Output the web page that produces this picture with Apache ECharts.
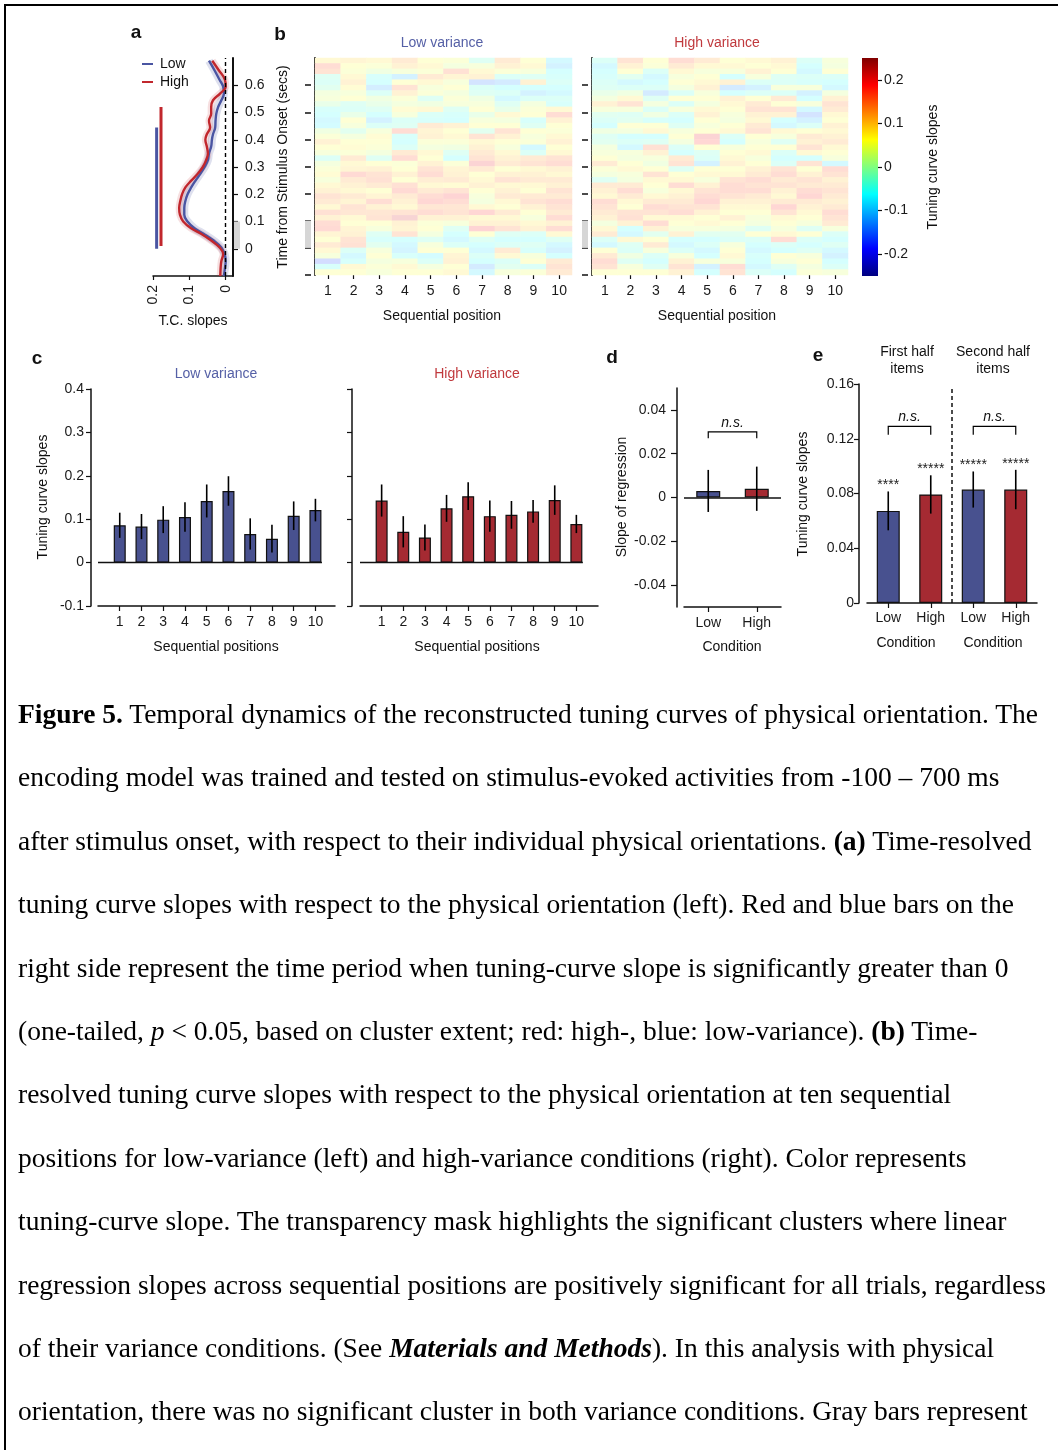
<!DOCTYPE html>
<html><head><meta charset="utf-8">
<script src="https://cdn.jsdelivr.net/npm/echarts@6/dist/echarts.min.js"></script>
<style>
html,body{margin:0;padding:0;background:#fff;}
#wrap{position:relative;width:1058px;height:1450px;overflow:hidden;background:#fff;}
#chart{position:absolute;left:0;top:0;width:1058px;height:1450px;}
#frame{position:absolute;left:4px;top:4px;width:1100px;height:1500px;border-left:2px solid #000;border-top:2px solid #000;pointer-events:none;}
#caption{position:absolute;left:18px;top:682px;font-family:'Liberation Serif','Times New Roman',serif;font-size:27.5px;line-height:63.4px;color:#000;white-space:nowrap;}
</style></head><body>
<div id="wrap"><div id="chart"></div><div id="frame"></div>
<div id="caption">
<div><b>Figure 5.</b> Temporal dynamics of the reconstructed tuning curves of physical orientation. The</div>
<div>encoding model was trained and tested on stimulus-evoked activities from -100 – 700 ms</div>
<div>after stimulus onset, with respect to their individual physical orientations. <b>(a)</b> Time-resolved</div>
<div>tuning curve slopes with respect to the physical orientation (left). Red and blue bars on the</div>
<div>right side represent the time period when tuning-curve slope is significantly greater than 0</div>
<div>(one-tailed, <i>p</i> &lt; 0.05, based on cluster extent; red: high-, blue: low-variance). <b>(b)</b> Time-</div>
<div>resolved tuning curve slopes with respect to the physical orientation at ten sequential</div>
<div>positions for low-variance (left) and high-variance conditions (right). Color represents</div>
<div>tuning-curve slope. The transparency mask highlights the significant clusters where linear</div>
<div>regression slopes across sequential positions are positively significant for all trials, regardless</div>
<div>of their variance conditions. (See <b><i>Materials and Methods</i></b>). In this analysis with physical</div>
<div>orientation, there was no significant cluster in both variance conditions. Gray bars represent</div>
</div></div>
<script>
// ---------------- DATA ----------------
// Panel a: time (s) and tuning-curve slopes
const timeA = [0.69,0.655,0.62,0.595,0.57,0.545,0.52,0.495,0.47,0.445,0.42,0.40,0.375,0.35,0.325,0.30,0.275,0.25,0.225,0.20,0.175,0.15,0.125,0.10,0.075,0.055,0.03,0.005,-0.02,-0.045,-0.07,-0.10];
const lowSlopeA = [0.046,0.031,0.017,0.007,0.005,0.012,0.021,0.026,0.028,0.029,0.035,0.038,0.040,0.046,0.049,0.058,0.070,0.083,0.095,0.105,0.111,0.114,0.114,0.105,0.086,0.061,0.033,0.012,0.003,0.000,0.002,0.005];
const highSlopeA = [0.037,0.019,0.002,0.000,0.015,0.035,0.040,0.040,0.046,0.043,0.052,0.056,0.052,0.049,0.054,0.063,0.077,0.095,0.111,0.120,0.125,0.128,0.126,0.117,0.095,0.068,0.040,0.017,0.007,0.012,0.014,0.015];
const sigLowWindow = [0.0, 0.445];
const sigHighWindow = [0.01, 0.52];
const baselineWindow = [0.0, 0.1];
const timeTicks = [0,0.1,0.2,0.3,0.4,0.5,0.6];
const heatTimeTicks = [-0.1,0,0.1,0.2,0.3,0.4,0.5,0.6];
const slopeTicksA = [0,0.1,0.2];

// Panel b: heatmap time bins (bin start, bottom -> top) and slopes (x0.01), each column listed top -> bottom
const timeBins = [-0.10,-0.08,-0.06,-0.04,-0.02,0.00,0.02,0.04,0.06,0.08,0.10,0.12,0.14,0.16,0.18,0.20,0.22,0.24,0.26,0.28,0.30,0.32,0.34,0.36,0.38,0.40,0.42,0.44,0.46,0.48,0.50,0.52,0.54,0.56,0.58,0.60,0.62,0.64,0.66,0.68];
const seqPositions = ['1','2','3','4','5','6','7','8','9','10'];
const lowVarHeat = [
 [8,16,14,-3,-4,-2,3,4,0,-5,-6,-8,-7,2,5,10,6,4,-4,3,5,7,4,8,10,14,12,8,15,10,16,17,9,6,12,8,4,-16,-5,6],
 [9,6,5,8,10,7,4,6,-3,-4,0,6,4,-2,3,6,7,5,12,8,9,17,12,10,8,12,9,14,13,8,6,9,10,14,15,-4,-8,-5,8,6],
 [8,5,2,-5,-6,-11,-4,2,0,-3,-6,-10,-4,4,7,6,5,3,-3,6,10,14,15,12,6,9,16,10,13,14,6,4,-3,-5,-2,4,6,3,5,4],
 [12,10,4,-10,6,14,10,5,3,7,4,-4,-3,16,-5,-6,-4,12,16,5,6,10,6,15,17,12,10,8,14,21,10,9,14,-6,-8,-9,-5,4,8,6],
 [6,8,5,12,8,4,5,-3,2,8,-4,-5,12,9,10,5,3,8,6,10,14,16,11,8,12,16,18,13,16,10,5,6,3,-3,4,6,-7,-4,3,6],
 [5,3,15,9,4,6,3,5,4,-3,-5,-6,10,6,8,5,2,-3,-6,5,9,10,12,7,14,19,16,13,14,10,4,-3,-6,-8,-4,6,9,10,6,8],
 [-3,4,8,10,-14,-4,-3,2,4,6,0,4,6,-2,14,8,10,12,14,20,12,6,8,10,6,4,3,8,18,8,10,19,6,-3,-6,-8,-4,-6,-12,-8],
 [12,10,5,-4,-12,-6,-4,-8,-3,0,8,3,6,14,10,6,4,8,10,12,6,10,14,8,10,12,8,6,12,8,10,14,-3,-6,-4,12,8,-4,-2,4],
 [6,8,4,-3,10,-6,-10,-4,3,5,6,-5,-3,6,4,5,-8,-4,12,14,8,10,12,8,6,12,14,10,6,4,8,10,-4,-6,-3,-5,4,6,-4,5],
 [-8,-10,-6,-5,-4,-6,-8,-4,-5,8,16,10,6,5,8,10,6,8,14,16,10,8,12,10,14,12,16,14,12,16,10,16,8,-3,-8,-10,-6,12,14,12]
];
const highVarHeat = [
 [-4,-8,-6,-5,-4,-3,0,3,10,4,-2,-4,-6,2,-3,-2,3,4,6,12,5,3,-3,12,10,8,16,14,12,10,3,8,12,-4,-8,6,12,16,14,6],
 [14,10,6,-2,-8,-4,2,8,14,4,-3,-2,6,3,-6,-4,-8,4,3,6,8,4,3,12,16,12,8,6,14,15,10,-6,-8,8,-3,-4,2,-3,4,6],
 [6,5,-4,-8,-6,-4,-12,-3,3,-4,2,-5,6,8,-6,-3,15,10,4,2,6,14,8,6,4,8,12,16,14,8,16,10,-2,6,12,4,-4,-6,-3,6],
 [16,12,8,4,6,3,-4,6,-4,4,-4,-6,-3,4,6,3,-4,-6,12,14,-3,6,8,16,8,10,12,14,16,8,6,4,10,-6,-8,-4,4,10,14,10],
 [12,8,4,6,8,10,4,6,3,8,10,6,4,6,20,18,6,-3,-4,-10,6,8,4,10,14,16,18,14,10,6,8,4,-2,-6,-4,-8,-6,4,-10,-6],
 [6,8,4,-6,10,-12,-6,10,8,6,4,3,6,8,-4,-6,4,6,8,10,6,8,14,16,16,14,10,8,6,10,6,3,-2,-4,4,6,8,4,16,14],
 [8,6,10,4,-4,-10,-4,6,12,14,10,8,12,14,6,4,6,8,4,6,10,12,16,14,16,12,10,8,6,4,3,-3,6,-4,-6,-8,-5,-6,-8,-4],
 [10,8,6,-3,-4,4,-4,12,6,14,10,-6,-8,8,4,-3,6,-4,-6,-4,14,16,12,14,10,8,12,18,14,8,6,4,8,16,-4,-6,6,4,-3,-6],
 [-4,-6,-8,-4,-5,4,-10,-6,4,-8,-14,-10,-4,6,12,10,14,8,-6,14,6,10,14,12,16,18,12,10,8,6,4,-3,6,-4,-6,-3,4,6,3,5],
 [4,3,6,-4,-6,-8,3,10,14,12,8,6,10,8,10,12,8,6,4,-8,16,14,10,12,14,12,10,12,16,14,12,4,-4,-6,-3,-8,-10,-6,-4,4]
];
const colorbarTicks = [-0.2,-0.1,0,0.1,0.2];

// Panel c
const cPositions = [1,2,3,4,5,6,7,8,9,10];
const cLowMean = [0.086,0.083,0.099,0.105,0.142,0.165,0.066,0.055,0.108,0.121];
const cLowSE   = [0.029,0.029,0.031,0.034,0.038,0.034,0.036,0.032,0.033,0.026];
const cHighMean = [0.143,0.071,0.058,0.125,0.153,0.107,0.110,0.118,0.144,0.089];
const cHighSE   = [0.037,0.036,0.030,0.031,0.032,0.036,0.032,0.026,0.034,0.021];

// Panel d
const dConds = ['Low','High'];
const dMean = [0.003,0.004];
const dSE = [0.0096,0.0101];
const dTicks = [-0.04,-0.02,0,0.02,0.04];
const dBracket = [0.03, 0.027];

// Panel e
const eConds = ['Low','High','Low','High'];
const eMean = [0.0673,0.0793,0.0829,0.0829];
const eSE = [0.0142,0.0140,0.0132,0.0144];
const eStars = ['****','*****','*****','*****'];
const eBracket = [0.129, 0.123];

// ---------------- STYLE ----------------
const FONT = "'Liberation Sans', Arial, Helvetica, sans-serif";
const AX = '#111';
const LBL = '#1a1a1a';
const LINE_BLUE = '#4a55a2', LINE_RED = '#c1272d';
const BAR_BLUE = '#48518f', BAR_RED = '#a52a32';
const TITLE_BLUE = '#5560a6', TITLE_RED = '#c0393d';
const JET = ['#00007F','#0000FF','#007FFF','#00FFFF','#7FFF7F','#FFFF00','#FF7F00','#FF0000','#7F0000'];
const MASK_ALPHA = 0.17;
function pale(hex){ const n=parseInt(hex.slice(1),16); const r=(n>>16)&255, g=(n>>8)&255, b=n&255; const f=c=>Math.round(255*(1-MASK_ALPHA)+c*MASK_ALPHA); return 'rgb('+f(r)+','+f(g)+','+f(b)+')'; }
const JET_PALE = JET.map(pale);
const fmt1 = v => Math.abs(v) < 1e-9 ? '0' : v.toFixed(1);
const fmt2 = v => Math.abs(v) < 1e-9 ? '0' : v.toFixed(2);

function merge(a, b){ const o = Object.assign({}, a); for (const k in b){ if (b[k] && typeof b[k]==='object' && !Array.isArray(b[k]) && a[k] && typeof a[k]==='object') o[k]=merge(a[k], b[k]); else o[k]=b[k]; } return o; }
const baseVal = {type:'value', splitLine:{show:false}, axisLine:{show:true,onZero:false,lineStyle:{color:AX,width:1.5}}, axisTick:{show:true,length:5,lineStyle:{color:AX,width:1.2}}, axisLabel:{fontFamily:FONT,fontSize:14,color:LBL}};
const baseCat = {type:'category', splitLine:{show:false}, axisLine:{show:true,onZero:false,lineStyle:{color:AX,width:1.5}}, axisTick:{show:true,alignWithLabel:true,length:5,lineStyle:{color:AX,width:1.2}}, axisLabel:{fontFamily:FONT,fontSize:14,color:LBL,interval:0}};
const V = o => merge(baseVal, o);
const C = o => merge(baseCat, o);

const grid = [
  {left:153, top:58, width:80, height:218},   // 0 a
  {left:315, top:58, width:257, height:217},  // 1 b low
  {left:592, top:58, width:256, height:217},  // 2 b high
  {left:862, top:58, width:16, height:218},   // 3 colorbar axis
  {left:98, top:389, width:237, height:217},  // 4 c low
  {left:360, top:389, width:238, height:217}, // 5 c high
  {left:684, top:388, width:97, height:219},  // 6 d
  {left:867, top:384, width:170, height:219}  // 7 e
];
const xAxis = [
  V({gridIndex:0, inverse:true, min:-0.02, max:0.2, axisTick:{customValues:slopeTicksA,length:4}, axisLabel:{customValues:slopeTicksA, rotate:90, margin:9, formatter:fmt1}}),
  C({gridIndex:1, data:seqPositions, axisLine:{show:false}, axisTick:{length:4}, axisLabel:{margin:9}}),
  C({gridIndex:2, data:seqPositions, axisLine:{show:false}, axisTick:{length:4}, axisLabel:{margin:9}}),
  {gridIndex:3, type:'value', show:false, min:0, max:1},
  V({gridIndex:4, min:0, max:10.9, axisTick:{customValues:cPositions}, axisLabel:{customValues:cPositions, margin:9}}),
  V({gridIndex:5, min:0, max:11, axisTick:{customValues:cPositions}, axisLabel:{customValues:cPositions, margin:9}}),
  C({gridIndex:6, data:dConds, axisLabel:{margin:9}}),
  C({gridIndex:7, data:eConds, axisLabel:{margin:8}})
];
const yAxis = [
  V({gridIndex:0, position:'right', min:-0.1, max:0.7, axisLine:{lineStyle:{width:2}}, axisTick:{customValues:timeTicks}, axisLabel:{customValues:timeTicks, formatter:fmt1, margin:12}}),
  C({gridIndex:1, position:'left', data:timeBins, axisLine:{lineStyle:{width:2}}, axisTick:{show:false}, axisLabel:{show:false}}),
  V({gridIndex:1, position:'left', min:-0.1, max:0.7, offset:4, axisLine:{show:false}, axisTick:{customValues:heatTimeTicks, length:6, lineStyle:{width:1.5}}, axisLabel:{show:false}}),
  C({gridIndex:2, position:'left', data:timeBins, axisLine:{lineStyle:{width:2}}, axisTick:{show:false}, axisLabel:{show:false}}),
  V({gridIndex:2, position:'left', min:-0.1, max:0.7, offset:4, axisLine:{show:false}, axisTick:{customValues:heatTimeTicks, length:6, lineStyle:{width:1.5}}, axisLabel:{show:false}}),
  V({gridIndex:3, position:'right', min:-0.25, max:0.25, axisLine:{show:false}, axisTick:{customValues:colorbarTicks, length:4}, axisLabel:{customValues:colorbarTicks, formatter:fmt1, margin:6}}),
  V({gridIndex:4, position:'left', min:-0.1, max:0.4, interval:0.1, offset:7, axisLabel:{formatter:fmt1, margin:7}}),
  V({gridIndex:5, position:'left', min:-0.1, max:0.4, interval:0.1, offset:8, axisLabel:{show:false}}),
  V({gridIndex:6, position:'left', min:-0.05, max:0.05, offset:7, axisTick:{customValues:dTicks, length:6}, axisLabel:{customValues:dTicks, formatter:fmt2, margin:11}}),
  V({gridIndex:7, position:'left', min:0, max:0.16, interval:0.04, offset:8, axisLabel:{formatter:fmt2, margin:5}})
];

const zip = (xs, ys) => xs.map((x,i)=>[x, ys[i]]);
function heatData(cols){ const out=[]; const n=timeBins.length; cols.forEach((col,c)=>col.forEach((v,r)=>out.push([c, n-1-r, v/100]))); return out; }

function errorSeries(xi, yi, data, stars){
  return {type:'custom', xAxisIndex:xi, yAxisIndex:yi, z:5, silent:true, clip:false, data:data,
    renderItem:(params, api)=>{
      const x=api.value(0), m=api.value(1), e=api.value(2);
      const p1=api.coord([x, m+e]), p2=api.coord([x, m-e]);
      const children=[{type:'line', shape:{x1:p1[0],y1:p1[1],x2:p2[0],y2:p2[1]}, style:{stroke:'#000', lineWidth:1.6}}];
      if (stars) children.push({type:'text', x:p1[0], y:p1[1]+1, style:{text:stars[params.dataIndex], fill:'#222', font:'14px '+FONT, align:'center', verticalAlign:'bottom'}});
      return {type:'group', children};
    }};
}
function bracketSeries(xi, yi, data){
  return {type:'custom', xAxisIndex:xi, yAxisIndex:yi, z:5, silent:true, clip:false, data:data,
    renderItem:(params, api)=>{
      const a=api.value(0), b=api.value(1), top=api.value(2), leg=api.value(3);
      const p0=api.coord([a,leg]), p1=api.coord([a,top]), p2=api.coord([b,top]), p3=api.coord([b,leg]);
      return {type:'group', children:[
        {type:'polyline', shape:{points:[p0,p1,p2,p3]}, style:{stroke:'#000', lineWidth:1.2, fill:null}},
        {type:'text', x:(p1[0]+p2[0])/2, y:p1[1]-2, style:{text:'n.s.', fill:'#111', font:'italic 14px '+FONT, align:'center', verticalAlign:'bottom'}}
      ]};
    }};
}
function baselineBox(xi, yi, side){
  return {type:'custom', xAxisIndex:xi, yAxisIndex:yi, silent:true, clip:false, z:1, data:[baselineWindow],
    renderItem:(params, api)=>{
      const cs=params.coordSys; const p0 = api.coord([0, api.value(0)]); const p1 = api.coord([0, api.value(1)]);
      const left = side==='right' ? cs.x + cs.width + 1 : cs.x - 10;
      return {type:'rect', shape:{x:left, y:p1[1], width:6, height:p0[1]-p1[1]}, style:{fill:'#d6d6d6'}};
    }};
}

const series = [
  {type:'line', name:'LowBand', xAxisIndex:0, yAxisIndex:0, data:zip(lowSlopeA, timeA), smooth:0.4, showSymbol:false, silent:true, lineStyle:{color:LINE_BLUE, width:8, opacity:0.18}},
  {type:'line', name:'HighBand', xAxisIndex:0, yAxisIndex:0, data:zip(highSlopeA, timeA), smooth:0.4, showSymbol:false, silent:true, lineStyle:{color:LINE_RED, width:7, opacity:0.15}},
  {type:'line', name:'Low', xAxisIndex:0, yAxisIndex:0, data:zip(lowSlopeA, timeA), smooth:0.4, showSymbol:false, silent:true, itemStyle:{color:LINE_BLUE}, lineStyle:{color:LINE_BLUE, width:2.4},
    markLine:{silent:true, symbol:'none', label:{show:false}, lineStyle:{color:'#000', type:[4,3], width:1.4}, data:[{xAxis:0}]}},
  {type:'line', name:'High', xAxisIndex:0, yAxisIndex:0, data:zip(highSlopeA, timeA), smooth:0.4, showSymbol:false, silent:true, itemStyle:{color:LINE_RED}, lineStyle:{color:LINE_RED, width:2.4}},
  {type:'line', name:'sigLow', xAxisIndex:0, yAxisIndex:0, data:[[0.19, sigLowWindow[0]],[0.19, sigLowWindow[1]]], showSymbol:false, silent:true, lineStyle:{color:LINE_BLUE, width:3}},
  {type:'line', name:'sigHigh', xAxisIndex:0, yAxisIndex:0, data:[[0.178, sigHighWindow[0]],[0.178, sigHighWindow[1]]], showSymbol:false, silent:true, lineStyle:{color:LINE_RED, width:3}},
  baselineBox(0, 0, 'right'),
  {type:'heatmap', name:'heatLow', xAxisIndex:1, yAxisIndex:1, data:heatData(lowVarHeat), emphasis:{disabled:true}, progressive:0, silent:true},
  {type:'heatmap', name:'heatHigh', xAxisIndex:2, yAxisIndex:3, data:heatData(highVarHeat), emphasis:{disabled:true}, progressive:0, silent:true},
  baselineBox(1, 2, 'left'),
  baselineBox(2, 4, 'left'),
  {type:'bar', xAxisIndex:4, yAxisIndex:6, data:zip(cPositions, cLowMean), barWidth:12, silent:true, itemStyle:{color:BAR_BLUE, borderColor:'#111', borderWidth:1.2}},
  {type:'line', xAxisIndex:4, yAxisIndex:6, data:[[0,0],[cPositions[cPositions.length-1]+0.3,0]], showSymbol:false, silent:true, lineStyle:{color:'#111', width:1.5}},
  errorSeries(4, 6, cPositions.map((p,i)=>[p, cLowMean[i], cLowSE[i]])),
  {type:'bar', xAxisIndex:5, yAxisIndex:7, data:zip(cPositions, cHighMean), barWidth:12, silent:true, itemStyle:{color:BAR_RED, borderColor:'#111', borderWidth:1.2}},
  {type:'line', xAxisIndex:5, yAxisIndex:7, data:[[0,0],[cPositions[cPositions.length-1]+0.3,0]], showSymbol:false, silent:true, lineStyle:{color:'#111', width:1.5}},
  errorSeries(5, 7, cPositions.map((p,i)=>[p, cHighMean[i], cHighSE[i]])),
  {type:'bar', xAxisIndex:6, yAxisIndex:8, barWidth:24, silent:true,
    data:dMean.map((v,i)=>({value:v, itemStyle:{color: i===0?BAR_BLUE:BAR_RED}})), itemStyle:{borderColor:'#111', borderWidth:1.2},
    markLine:{silent:true, symbol:'none', label:{show:false}, lineStyle:{color:'#111', type:'solid', width:1.5}, data:[{yAxis:0}]}},
  errorSeries(6, 8, dMean.map((v,i)=>[i, v, dSE[i]])),
  bracketSeries(6, 8, [[0, 1, dBracket[0], dBracket[1]]]),
  {type:'bar', xAxisIndex:7, yAxisIndex:9, barWidth:23, silent:true,
    data:eMean.map((v,i)=>({value:v, itemStyle:{color: i%2===0?BAR_BLUE:BAR_RED}})), itemStyle:{borderColor:'#111', borderWidth:1.2}},
  errorSeries(7, 9, eMean.map((v,i)=>[i, v, eSE[i]]), eStars),
  bracketSeries(7, 9, [[0, 1, eBracket[0], eBracket[1]], [2, 3, eBracket[0], eBracket[1]]]),
  {type:'custom', xAxisIndex:7, yAxisIndex:9, silent:true, clip:false, data:[[1, 2, 0, 0.158]],
    renderItem:(params, api)=>{
      const a=api.coord([api.value(0), api.value(2)]), b=api.coord([api.value(1), api.value(3)]);
      const x=(a[0]+b[0])/2;
      return {type:'line', shape:{x1:x, y1:a[1], x2:x, y2:b[1]}, style:{stroke:'#111', lineWidth:1.5, lineDash:[4,3]}};
    }}
];

function T(x, y, text, o){ o=o||{}; return {type:'text', x, y, rotation:o.rot||0, silent:true, style:{text, fill:o.color||'#111', font:(o.bold?'bold ':'')+(o.size||14)+'px '+FONT, align:o.align||'center', verticalAlign:'middle'}}; }
const R = Math.PI/2;
const graphic = [
  {type:'rect', silent:true, shape:{x:862, y:58, width:16, height:218}, style:{fill:{type:'linear', x:0, y:1, x2:0, y2:0, colorStops:JET.map((c,i)=>({offset:i/(JET.length-1), color:c}))}}},
  T(136,33,'a',{bold:true,size:19}), T(280,35,'b',{bold:true,size:19}), T(37,359,'c',{bold:true,size:19}), T(612,358,'d',{bold:true,size:19}), T(818,356,'e',{bold:true,size:19}),
  T(442,43,'Low variance',{color:TITLE_BLUE}), T(717,43,'High variance',{color:TITLE_RED}),
  T(442,316,'Sequential position'), T(717,316,'Sequential position'),
  T(283,167,'Time from Stimulus Onset (secs)',{rot:R}), T(193,321,'T.C. slopes'),
  T(933,167,'Tuning curve slopes',{rot:R}),
  T(216,374,'Low variance',{color:TITLE_BLUE}), T(477,374,'High variance',{color:TITLE_RED}),
  T(216,647,'Sequential positions'), T(477,647,'Sequential positions'),
  T(43,497,'Tuning curve slopes',{rot:R}),
  T(622,497,'Slope of regression',{rot:R}), T(732,647,'Condition'),
  T(907,352,'First half'), T(907,369,'items'), T(993,352,'Second half'), T(993,369,'items'),
  T(803,494,'Tuning curve slopes',{rot:R}), T(906,643,'Condition'), T(993,643,'Condition')
];

const chart = echarts.init(document.getElementById('chart'), null, {renderer:'canvas'});
chart.setOption({
  animation:false,
  backgroundColor:'transparent',
  textStyle:{fontFamily:FONT},
  legend:{data:['Low','High'], orient:'vertical', left:142, top:57, padding:0, itemWidth:11, itemHeight:2, itemGap:4, icon:'rect', selectedMode:false, textStyle:{fontFamily:FONT, fontSize:14, color:'#111', padding:[0,0,0,2]}},
  visualMap:{type:'continuous', show:false, min:-0.25, max:0.25, seriesIndex:[7,8], dimension:2, inRange:{color:JET_PALE}},
  grid, xAxis, yAxis, series, graphic
});
</script>
</body></html>
